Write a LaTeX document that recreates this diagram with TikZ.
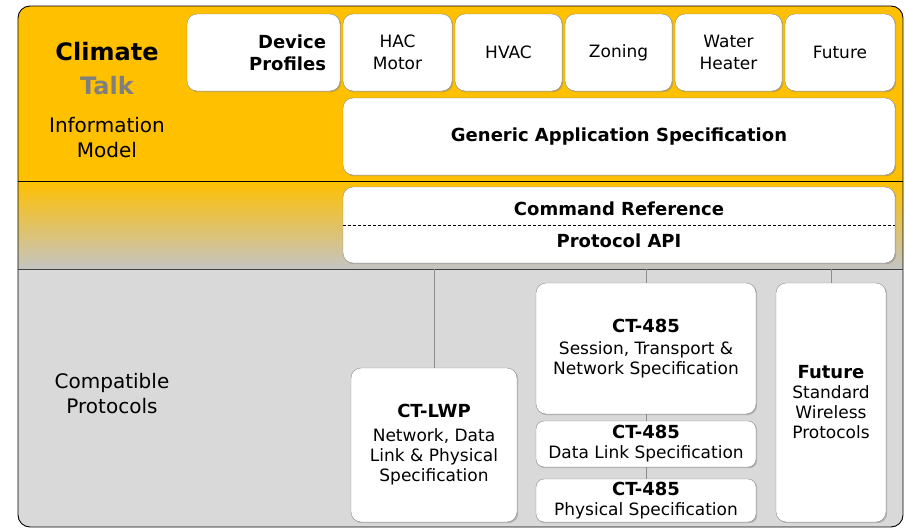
\documentclass[tikz,border=0pt]{standalone}
\usepackage{fontspec}
\setmainfont{DejaVu Sans}
\usetikzlibrary{shadows}
\definecolor{ctorange}{HTML}{FFC000}
\definecolor{ctgrey}{HTML}{D9D9D9}
\definecolor{ctmid}{HTML}{C4C4C4}
\definecolor{ctedge}{HTML}{8C8C8C}
\definecolor{cttalk}{HTML}{7F7F7F}
\newcommand{\ctnorm}{\fontsize{17}{20}\selectfont}
\newcommand{\ctbold}{\fontsize{18}{20}\selectfont\bfseries}
\newcommand{\cttop}{\fontsize{17}{22}\selectfont}

\begin{document}
\begin{tikzpicture}[x=1pt, y=-1pt,
    tbox/.style={draw=ctedge, fill=white, rounded corners=10pt, align=center, inner sep=0pt, font=\ctnorm,
        drop shadow={shadow xshift=1.2pt, shadow yshift=-1.2pt, opacity=0.45}},
    side/.style={align=center, inner sep=0pt, font=\fontsize{20}{25}\selectfont},
    link/.style={draw=ctedge, line width=0.8pt}]
\useasboundingbox (0,0) rectangle (905,530);

% bands
\begin{scope}
    \clip[rounded corners=12pt] (18,6) rectangle (903,527);
    \fill[ctorange] (18,6) rectangle (903,181);
    \shade[top color=ctorange, bottom color=ctmid] (18,181) rectangle (903,269);
    \fill[ctgrey] (18,269) rectangle (903,527);
\end{scope}
\draw[line width=0.9pt, rounded corners=12pt] (18,6) rectangle (903,527);
\draw[line width=0.9pt] (18,181) -- (903,181);
\draw[line width=0.9pt, black!75] (18,269) coordinate (protoline) -- (903,269);

% information model
\node[inner sep=0pt, font=\fontsize{24}{28}\selectfont\bfseries] (climate) at (107,52) {Climate};
\node[inner sep=0pt, text=cttalk, font=\fontsize{24}{28}\selectfont\bfseries] (talk) at (107,86) {Talk};
\node[side] (infomodel) at (107,137.5) {Information\\Model};

\node[tbox, minimum width=153, minimum height=77, text width=125pt, align=right, font=\fontsize{18}{22}\selectfont\bfseries] (profiles) at (263.5,52.5) {Device\\Profiles};
\node[tbox, minimum width=109, minimum height=77, font=\cttop] (hac) at (397.5,52.5) {HAC\\Motor};
\node[tbox, minimum width=107, minimum height=77, font=\cttop] (hvac) at (508.5,52.5) {HVAC};
\node[tbox, minimum width=107, minimum height=77, font=\cttop] (zoning) at (618.5,52.5) {Zoning};
\node[tbox, minimum width=107, minimum height=77, font=\cttop] (water) at (728.5,52.5) {Water\\Heater};
\node[tbox, minimum width=110, minimum height=77, font=\cttop] (future) at (840,52.5) {Future};
\node[tbox, minimum width=552, minimum height=77, font=\ctbold] (generic) at (619,136.5) {Generic Application Specification};

% api
\node[tbox, minimum width=552, minimum height=76] (api) at (619,225) {};
\draw[line width=0.9pt, dash pattern=on 3pt off 2pt] (api.west) -- (api.east);
\node[inner sep=0pt, font=\ctbold] (cmdref) at (619,209) {Command Reference};
\node[inner sep=0pt, font=\ctbold] (protoapi) at (619,241) {Protocol API};

% compatible protocols
\node[side] (compat) at (112,393.5) {Compatible\\Protocols};

\node[tbox, minimum width=166, minimum height=154] (lwp) at (434,445) {{\ctbold CT-LWP}\\[4pt]Network, Data\\Link \& Physical\\Specification};
\node[tbox, minimum width=220, minimum height=131] (ses) at (646,348.5) {{\ctbold CT-485}\\[2pt]Session, Transport \&\\Network Specification};
\node[tbox, rounded corners=8pt, minimum width=220, minimum height=46] (dll) at (646,444) {{\ctbold CT-485}\\Data Link Specification};
\node[tbox, rounded corners=8pt, minimum width=220, minimum height=43] (phy) at (646,500.5) {{\ctbold CT-485}\\Physical Specification};
\node[tbox, minimum width=110, minimum height=239] (fut) at (831,402.5) {{\ctbold Future}\\Standard\\Wireless\\Protocols};

\draw[link] (lwp.north) -- (lwp.north |- protoline);
\draw[link] (ses.north) -- (ses.north |- protoline);
\draw[link] (ses.south) -- (dll.north);
\draw[link] (dll.south) -- (phy.north);
\draw[link] (fut.north) -- (fut.north |- protoline);
\end{tikzpicture}
\end{document}
